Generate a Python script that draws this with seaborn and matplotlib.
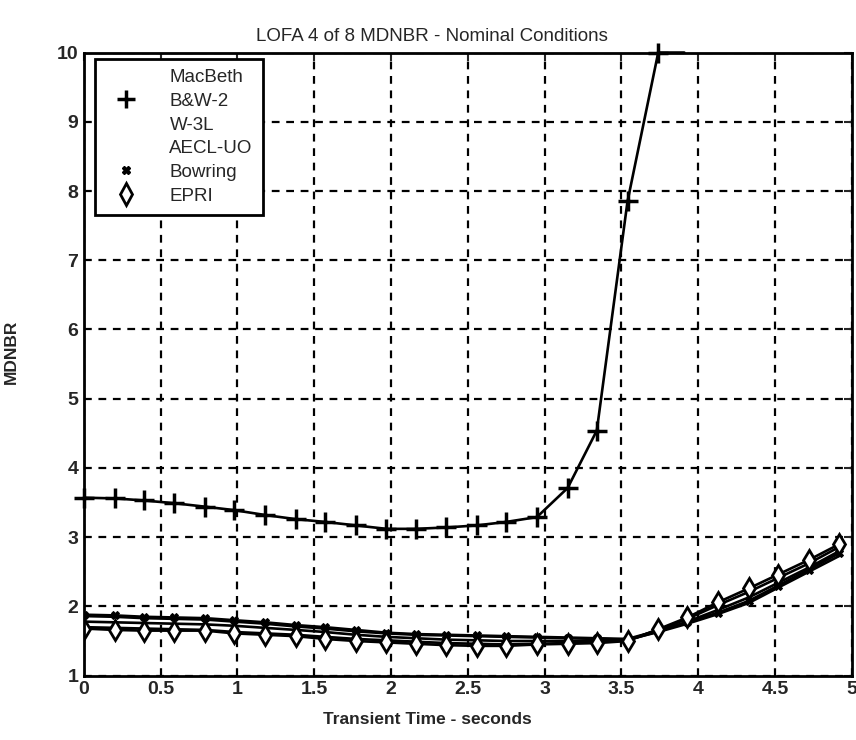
import matplotlib
matplotlib.use('Agg')
import matplotlib.pyplot as plt
import seaborn as sns
from matplotlib.lines import Line2D

# time steps (s)
time_s = [0, 0.2, 0.39, 0.59, 0.79, 0.98, 1.18, 1.38, 1.57, 1.77, 1.97, 2.16, 2.36,
          2.56, 2.75, 2.95, 3.15, 3.34, 3.54, 3.74, 3.93, 4.13, 4.33, 4.52, 4.72, 4.92]

# B&W-2 climbs to the 10.0 cap, then stays flat until ~3.91 s
bw2_time = [0, 0.2, 0.39, 0.59, 0.79, 0.98, 1.18, 1.38, 1.57, 1.77, 1.97, 2.16, 2.36,
            2.56, 2.75, 2.95, 3.15, 3.34, 3.54, 3.74, 3.91]
bw2 = [3.57, 3.56, 3.53, 3.49, 3.44, 3.39, 3.32, 3.26, 3.22, 3.17, 3.12, 3.12, 3.14,
       3.17, 3.22, 3.29, 3.71, 4.54, 7.85, 10.0, 10.0]

macbeth = [1.86, 1.85, 1.83, 1.82, 1.81, 1.78, 1.75, 1.71, 1.68, 1.64, 1.61, 1.59, 1.58,
           1.57, 1.56, 1.55, 1.54, 1.53, 1.52, 1.63, 1.75, 1.89, 2.05, 2.27, 2.50, 2.73]
w3l = [1.78, 1.77, 1.76, 1.75, 1.74, 1.72, 1.69, 1.66, 1.63, 1.59, 1.56, 1.54, 1.52,
       1.51, 1.50, 1.50, 1.50, 1.50, 1.51, 1.64, 1.78, 1.95, 2.13, 2.34, 2.56, 2.80]
aecl = [1.70, 1.69, 1.68, 1.67, 1.66, 1.63, 1.61, 1.59, 1.56, 1.53, 1.51, 1.49, 1.47,
        1.46, 1.45, 1.46, 1.47, 1.48, 1.51, 1.66, 1.82, 2.02, 2.21, 2.41, 2.62, 2.86]
bowring = [1.88, 1.87, 1.85, 1.84, 1.83, 1.80, 1.77, 1.73, 1.70, 1.66, 1.62, 1.60, 1.59,
           1.58, 1.57, 1.56, 1.55, 1.54, 1.53, 1.65, 1.77, 1.91, 2.08, 2.30, 2.53, 2.77]
epri = [1.68, 1.66, 1.65, 1.65, 1.65, 1.61, 1.59, 1.57, 1.53, 1.50, 1.48, 1.46, 1.44,
        1.43, 1.43, 1.45, 1.46, 1.47, 1.50, 1.67, 1.84, 2.06, 2.26, 2.46, 2.67, 2.90]

legend_names = ['MacBeth', 'B&W-2', 'W-3L', 'AECL-UO', 'Bowring', 'EPRI']
x_ticks = [0, 0.5, 1, 1.5, 2, 2.5, 3, 3.5, 4, 4.5, 5]
x_tick_labels = ['0', '0.5', '1', '1.5', '2', '2.5', '3', '3.5', '4', '4.5', '5']
y_ticks = [1, 2, 3, 4, 5, 6, 7, 8, 9, 10]

sns.set_style('white')
plt.rcParams['font.family'] = ['Liberation Sans', 'DejaVu Sans']

fig = plt.figure(figsize=(8.56, 7.4), dpi=100)
ax = fig.add_axes([0.098, 0.087, 0.897, 0.842])

line_kw = dict(color='black', linewidth=1.9, estimator=None, sort=False, legend=False)

# unmarked correlations
for vals in (macbeth, w3l, aecl):
    sns.lineplot(x=time_s, y=vals, ax=ax, **line_kw)

sns.lineplot(x=time_s, y=bowring, ax=ax, marker='X', markersize=6,
             markerfacecolor='black', markeredgecolor='black', **line_kw)
sns.lineplot(x=time_s, y=epri, ax=ax, marker='d', markersize=10,
             markerfacecolor='white', markeredgecolor='black', markeredgewidth=2, **line_kw)
sns.lineplot(x=bw2_time, y=bw2, ax=ax, marker='+', markersize=14, markeredgewidth=2.5,
             markeredgecolor='black', markevery=list(range(20)), clip_on=False, **line_kw)

ax.set_xlim(0, 5)
ax.set_ylim(1, 10)
ax.set_xticks(x_ticks)
ax.set_xticklabels(x_tick_labels)
ax.set_yticks(y_ticks)
ax.grid(True, color='black', linestyle=(0, (3.5, 3)), linewidth=1.6)
ax.tick_params(direction='in', top=True, right=True, length=6, width=1.5,
               labelsize=14, pad=4)
for lbl in ax.get_xticklabels() + ax.get_yticklabels():
    lbl.set_fontweight('bold')
for sp in ax.spines.values():
    sp.set_color('black')
    sp.set_linewidth(2)

ax.set_title('LOFA 4 of 8 MDNBR - Nominal Conditions', fontsize=13.5, x=0.453, pad=8)
ax.set_xlabel('Transient Time - seconds', fontsize=12.5, fontweight='bold', labelpad=2)
ax.xaxis.set_label_coords(0.447, -0.058)
ax.set_ylabel('MDNBR', fontsize=12.5, fontweight='bold')
ax.yaxis.set_label_coords(-0.085, 0.52)

handles = [
    Line2D([], [], linestyle='none', marker='none'),
    Line2D([], [], linestyle='none', marker='+', markersize=13, markeredgewidth=2.5, color='black'),
    Line2D([], [], linestyle='none', marker='none'),
    Line2D([], [], linestyle='none', marker='none'),
    Line2D([], [], linestyle='none', marker='X', markersize=6, color='black'),
    Line2D([], [], linestyle='none', marker='d', markersize=11, markerfacecolor='white',
           markeredgecolor='black', markeredgewidth=2),
]
leg = ax.legend(handles, legend_names, loc='upper left', bbox_to_anchor=(0.015, 0.99),
                fontsize=13.5, frameon=True, fancybox=False, edgecolor='black',
                framealpha=1, handlelength=2.2, handletextpad=1.2, borderpad=0.55,
                labelspacing=0.35, borderaxespad=0)
leg.get_frame().set_linewidth(2)

fig.savefig('out.png', dpi=100)
